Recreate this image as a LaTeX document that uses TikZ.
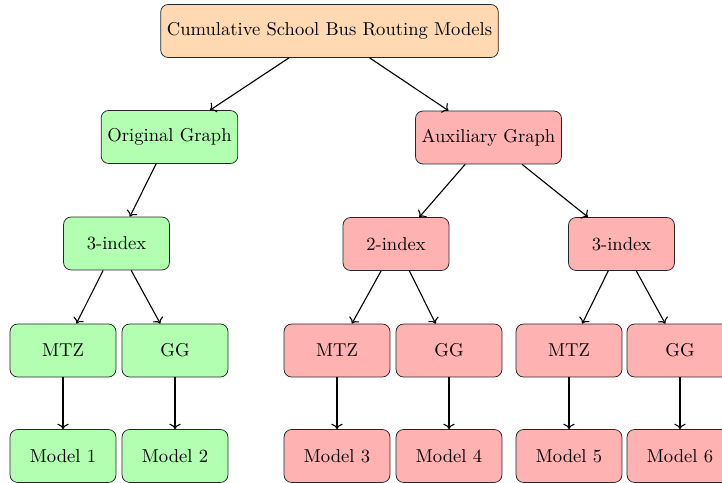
\documentclass[tikz,border=0pt]{standalone}
\usetikzlibrary{arrows.meta}
\tikzset{
  box/.style={draw=black!85, rounded corners=4pt, minimum width=2cm, minimum height=1cm, align=center},
  topbox/.style={box, fill=orange!30},
  gbox/.style={box, fill=green!30},
  rbox/.style={box, fill=red!30},
  arr/.style={->, semithick},
}
\begin{document}
\begin{tikzpicture}[x=0.5376pt, y=-0.5376pt]
\useasboundingbox (0,0) rectangle (722,483);
\node[topbox] (top) at (329.5,31) {Cumulative School Bus Routing Models};
\node[gbox] (orig) at (169.5,137) {Original Graph};
\node[rbox] (aux) at (488.5,137.5) {Auxiliary Graph};
\node[gbox] (g3) at (116.5,243.5) {3-index};
\node[rbox] (r2) at (396,244) {2-index};
\node[rbox] (r3) at (621.5,244) {3-index};
\node[gbox] (gm) at (63,350.5) {MTZ};
\node[gbox] (gg) at (175,350.5) {GG};
\node[rbox] (r2m) at (337,350.5) {MTZ};
\node[rbox] (r2g) at (449,350.5) {GG};
\node[rbox] (r3m) at (569,350.5) {MTZ};
\node[rbox] (r3g) at (680,350.5) {GG};
\node[gbox] (m1) at (63,456) {Model 1};
\node[gbox] (m2) at (175,456) {Model 2};
\node[rbox] (m3) at (337,456) {Model 3};
\node[rbox] (m4) at (449,456) {Model 4};
\node[rbox] (m5) at (569,456) {Model 5};
\node[rbox] (m6) at (680,456) {Model 6};
\draw[arr] (top) -- (orig);
\draw[arr] (top) -- (aux);
\draw[arr] (orig) -- (g3);
\draw[arr] (aux) -- (r2);
\draw[arr] (aux) -- (r3);
\draw[arr] (g3) -- (gm);
\draw[arr] (g3) -- (gg);
\draw[arr] (r2) -- (r2m);
\draw[arr] (r2) -- (r2g);
\draw[arr] (r3) -- (r3m);
\draw[arr] (r3) -- (r3g);
\draw[arr] (gm) -- (m1);
\draw[arr] (gg) -- (m2);
\draw[arr] (r2m) -- (m3);
\draw[arr] (r2g) -- (m4);
\draw[arr] (r3m) -- (m5);
\draw[arr] (r3g) -- (m6);
\end{tikzpicture}
\end{document}
